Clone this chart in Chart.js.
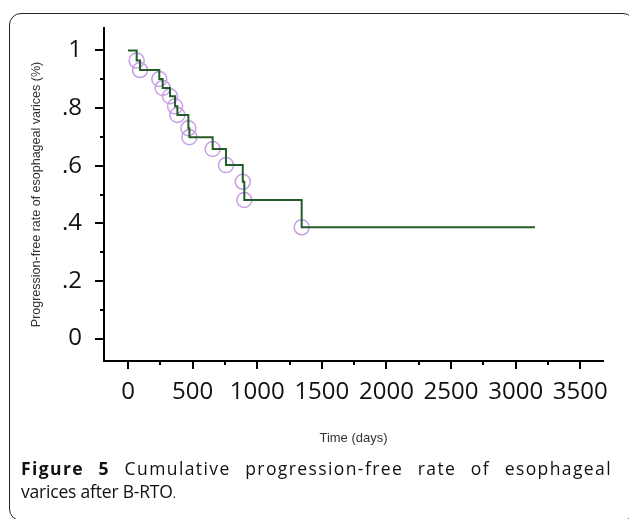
<!DOCTYPE html>
<html>
<head>
<meta charset="utf-8">
<script src="https://cdn.jsdelivr.net/npm/chart.js@4"></script>
<style>
  html, body { margin: 0; padding: 0; background: #fff; }
  #wrap { position: relative; width: 629px; height: 519px; overflow: hidden; background: #fff; }
  #frame { position: absolute; left: 9px; top: 13px; width: 626px; height: 508px; border: 1.5px solid #222; border-radius: 12px; box-sizing: border-box; }
  #plot { position: absolute; left: 0; top: 0; }
  .cap { position: absolute; left: 21px; width: 591px; font-family: "Open Sans", sans-serif; font-size: 17.5px; color: #111; white-space: nowrap; }
  #cap1 { top: 456px; letter-spacing: 1.4px; text-align: justify; text-align-last: justify; white-space: normal; }
  #cap2 { top: 479px; letter-spacing: -0.2px; }
  .cap b { font-weight: 700; }
</style>
</head>
<body>
<div id="wrap">
  <div id="frame"></div>
  <canvas id="plot" width="629" height="460"></canvas>
  <div class="cap" id="cap1"><b>Figure 5</b> Cumulative progression-free rate of esophageal</div>
  <div class="cap" id="cap2">varices after B-RTO<span style="font-size:12px">.</span></div>
</div>
<script>
// Kaplan-Meier step curve
const eventDays = [0, 67, 93, 242, 268, 325, 364, 382, 467, 475, 655, 758, 888, 900, 1344, 3150];
const freeRate  = [1, 0.965, 0.932, 0.901, 0.870, 0.841, 0.806, 0.776, 0.730, 0.699, 0.658, 0.602, 0.544, 0.481, 0.386, 0.386];

// circled points
const markDays  = [67, 93, 242, 268, 325, 364, 382, 467, 475, 655, 758, 888, 900, 1344];
const markRates = [0.965, 0.932, 0.901, 0.870, 0.841, 0.806, 0.776, 0.730, 0.699, 0.658, 0.602, 0.544, 0.481, 0.386];

// ticks
const xTickValues = [0, 500, 1000, 1500, 2000, 2500, 3000, 3500];
const xTickLabels = ['0', '500', '1000', '1500', '2000', '2500', '3000', '3500'];
const xMinorValues = [250, 750, 1250, 1750, 2250, 2750, 3250];
const yTickValues = [0, 0.2, 0.4, 0.6, 0.8, 1];
const yTickLabels = ['0', '.2', '.4', '.6', '.8', '1'];
const yMinorValues = [0.1, 0.3, 0.5, 0.7, 0.9];

const LINE_GREEN = '#245b2a';
const CIRCLE_PURPLE = '#c69fe4';

// short minor tick marks, placed through the scales
const minorTicks = {
  id: 'minorTicks',
  afterDraw(chart) {
    const ctx = chart.ctx;
    const x = chart.scales.x, y = chart.scales.y;
    ctx.save();
    ctx.strokeStyle = '#000';
    ctx.lineWidth = 2;
    ctx.beginPath();
    for (const v of xMinorValues) {
      const px = Math.round(x.getPixelForValue(v));
      ctx.moveTo(px, x.top);
      ctx.lineTo(px, x.top + 4);
    }
    for (const v of yMinorValues) {
      const py = Math.round(y.getPixelForValue(v));
      ctx.moveTo(y.right, py);
      ctx.lineTo(y.right - 4, py);
    }
    ctx.stroke();
    ctx.restore();
  }
};

const tickFont = { family: '"Open Sans", sans-serif', size: 24 };
const titleFont = { family: '"Liberation Sans", Arial, sans-serif', size: 12.5 };

new Chart(document.getElementById('plot'), {
  type: 'line',
  data: {
    datasets: [
      {
        data: eventDays.map((d, i) => ({ x: d, y: freeRate[i] })),
        stepped: true,
        borderColor: LINE_GREEN,
        borderWidth: 2,
        pointRadius: 0,
        fill: false,
        order: 1
      },
      {
        type: 'scatter',
        data: markDays.map((d, i) => ({ x: d, y: markRates[i] })),
        showLine: false,
        pointRadius: 7.5,
        pointBorderWidth: 1.5,
        pointBorderColor: CIRCLE_PURPLE,
        pointBackgroundColor: 'rgba(0,0,0,0)',
        order: 2
      }
    ]
  },
  options: {
    responsive: false,
    animation: false,
    layout: { padding: { left: 0, top: 28, right: 26, bottom: 14 } },
    plugins: { legend: { display: false }, tooltip: { enabled: false } },
    scales: {
      x: {
        type: 'linear',
        min: -186,
        max: 3676,
        afterBuildTicks: s => { s.ticks = xTickValues.map(v => ({ value: v })); },
        afterFit: s => { s.height = 85; s.paddingLeft = 0; s.paddingRight = 0; },
        ticks: { color: '#111', font: tickFont, padding: 9, maxRotation: 0, autoSkip: false, callback: (v, i) => xTickLabels[i] },
        grid: { drawOnChartArea: false, drawTicks: true, tickLength: 8, color: '#000', lineWidth: 2 },
        border: { display: true, color: '#000', width: 2 },
        title: { display: true, text: 'Time (days)', color: '#333', font: { ...titleFont, size: 13 }, padding: { top: 0, bottom: 0 } }
      },
      y: {
        type: 'linear',
        min: -0.078,
        max: 1.078,
        afterBuildTicks: s => { s.ticks = yTickValues.map(v => ({ value: v })); },
        afterFit: s => { s.width = 104; s.paddingTop = 0; s.paddingBottom = 0; },
        ticks: { color: '#111', font: tickFont, padding: 13, callback: (v, i) => yTickLabels[i] },
        grid: { drawOnChartArea: false, drawTicks: true, tickLength: 9, color: '#000', lineWidth: 2 },
        border: { display: true, color: '#000', width: 2 },
        title: { display: true, text: 'Progression-free rate of esophageal varices (%)', color: '#333', font: titleFont, padding: { top: 29, bottom: 0 } }
      }
    }
  },
  plugins: [minorTicks]
});
</script>
</body>
</html>
